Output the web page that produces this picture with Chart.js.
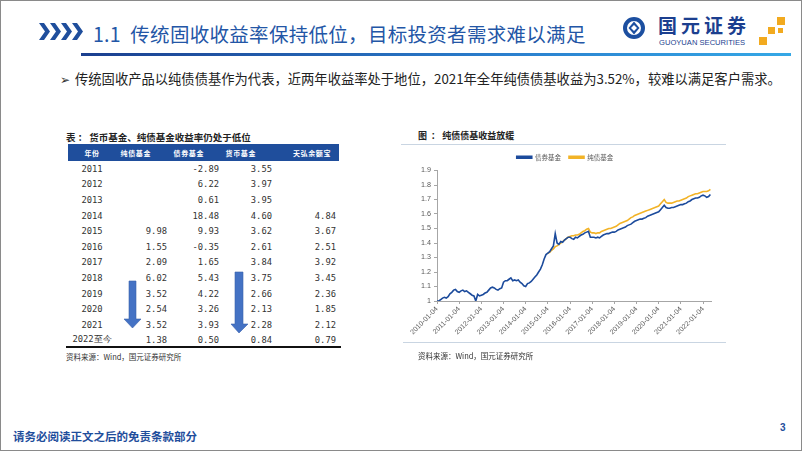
<!DOCTYPE html>
<html>
<head>
<meta charset="utf-8">
<script src="https://cdn.jsdelivr.net/npm/chart.js@4.4.1/dist/chart.umd.min.js"></script>
<style>
    body { margin: 0; background: #fff; }
    #slide {
        position: relative; width: 802px; height: 451px; box-sizing: border-box;
        border: 1px solid #8a8a8a; overflow: hidden;
        font-family: "Noto Sans CJK SC", "Noto Sans", sans-serif;
    }
    .abs { position: absolute; white-space: nowrap; }
    #title { left: 92px; top: 18px; font-size: 19.5px; color: #2356a6; letter-spacing: 0.3px; }
    #titleLine { left: 80px; top: 52px; width: 710px; height: 3px;
        background: linear-gradient(to right, #1b3f8f, #2a7fce 60%, #35a8e6); }
    #logoText { left: 657px; top: 14px; font-size: 19px; line-height: 1; font-weight: 700; color: #1c3f8f; letter-spacing: 4px; }
    #logoSub { left: 658px; top: 37.5px; line-height: 1; font-family: "Liberation Sans", sans-serif; font-size: 7.6px; color: #1c3f8f; }
    #bullet { left: 59px; top: 68px; font-size: 13.3px; color: #222; }
    #bullet span { color: #333; margin-right: 5px; font-size: 12px; }
    #tblCap { left: 65px; top: 129px; font-size: 9.5px; font-weight: 700; color: #222; }
    #tbl { position: absolute; left: 67px; top: 143px; border-collapse: collapse; table-layout: fixed; }
    #tbl th { background: #1f4e9c; color: #fff; font-size: 7px; font-weight: 700; height: 17px; padding: 0;
        letter-spacing: 0.6px; }
    #tbl td { height: 15.6px; padding: 0; font-family: "DejaVu Sans Mono", monospace; font-size: 8.8px; color: #333; }
    #tbl td.num { text-align: right; }
    #tbl td.yr { text-align: center; }
    #tblBottom { left: 65px; top: 345px; width: 275px; height: 2px; background: #111; }
    .src { font-size: 7.5px; color: #333; }
    #chartCap { left: 417px; top: 128px; font-size: 9px; font-weight: 700; color: #222; }
    #chartTop { left: 400px; top: 143px; width: 325px; height: 1px; background: #c9d5e2; }
    #chartBot { left: 402px; top: 341px; width: 323px; height: 1px; background: #c9d5e2; }
    #chartBox { position: absolute; left: 400px; top: 145px; }
    #footer { left: 12px; top: 427px; font-size: 11.5px; font-weight: 700; color: #1f4e9c; }
    #pageNo { left: 779px; top: 421px; font-size: 10px; font-weight: 700; color: #1f4e9c; font-family: "Liberation Sans", sans-serif; }
</style>
</head>
<body>
<div id="slide">
    <svg class="abs" style="left:38px;top:22px" width="46" height="17">
        <g fill="#1f4e9c">
            <polygon points="0,0 5,0 11,8.5 5,17 0,17 6,8.5"/>
            <polygon points="11,0 16,0 22,8.5 16,17 11,17 17,8.5"/>
            <polygon points="22,0 27,0 33,8.5 27,17 22,17 28,8.5"/>
            <polygon points="33,0 38,0 44,8.5 38,17 33,17 39,8.5"/>
        </g>
    </svg>
    <div id="title" class="abs">1.1&nbsp; 传统固收收益率保持低位，目标投资者需求难以满足</div>
    <div id="titleLine" class="abs"></div>

    <svg class="abs" style="left:621px;top:14px" width="26" height="26">
        <circle cx="12" cy="13" r="9" fill="none" stroke="#1c4fa0" stroke-width="4"/>
        <polygon points="12,6.5 17.5,13 12,19.5 6.5,13" fill="#1c4fa0"/>
        <polygon points="12,10 15,13 12,16 9,13" fill="#fff"/>
    </svg>
    <div id="logoText" class="abs">国元证券</div>
    <div id="logoSub" class="abs">GUOYUAN SECURITIES</div>
    <svg class="abs" style="left:756px;top:15px" width="30" height="32">
        <g fill="#f2aa1f">
            <rect x="20" y="1" width="8" height="8"/>
            <rect x="11" y="11" width="7" height="7"/>
            <rect x="21" y="12" width="5" height="5"/>
            <rect x="2" y="21" width="8" height="8"/>
        </g>
    </svg>

    <div id="bullet" class="abs"><span>➢</span>传统固收产品以纯债债基作为代表，近两年收益率处于地位，2021年全年纯债债基收益为3.52%，较难以满足客户需求。</div>

    <div id="tblCap" class="abs">表&nbsp;：&nbsp;货币基金、纯债基金收益率仍处于低位</div>
    <table id="tbl">
        <colgroup><col style="width:48px"><col style="width:55px"><col style="width:52px"><col style="width:53px"><col style="width:63px"></colgroup>
        <thead><tr id="tblHead"></tr></thead>
        <tbody id="tblBody"></tbody>
    </table>
    <div id="tblBottom" class="abs"></div>
    <svg class="abs" style="left:118px;top:266px" width="135" height="70">
        <g fill="#4472c4" stroke="#3a62ad" stroke-width="0.6">
            <polygon points="10,14 17,14 17,52 22,52 13.5,61 5,52 10,52"/>
            <polygon points="116,5 124,5 124,57 129,57 120,66 112,57 116,57"/>
        </g>
    </svg>
    <div class="abs src" style="left:65px;top:350px">资料来源：Wind，国元证券研究所</div>

    <div id="chartCap" class="abs">图&nbsp;&nbsp;：&nbsp;纯债债基收益放缓</div>
    <div id="chartTop" class="abs"></div>
    <div id="chartBox"><canvas id="bondChart" width="325" height="197"></canvas></div>
    <div id="chartBot" class="abs"></div>
    <div class="abs src" style="left:417px;top:349px">资料来源：Wind，国元证券研究所</div>

    <div id="footer" class="abs">请务必阅读正文之后的免责条款部分</div>
    <div id="pageNo" class="abs">3</div>
</div>

<script>
/****************************** Table data ********************************/
const tableHead = ['年份', '纯债基金', '债券基金', '货币基金', '天弘余额宝'];
const tableYears = ['2011', '2012', '2013', '2014', '2015', '2016', '2017', '2018', '2019', '2020', '2021', '2022至今'];
const tablePureBond = ['', '', '', '', '9.98', '1.55', '2.09', '6.02', '3.52', '2.54', '3.52', '1.38'];
const tableBond = ['-2.89', '6.22', '0.61', '18.48', '9.93', '-0.35', '1.65', '5.43', '4.22', '3.26', '3.93', '0.50'];
const tableMoney = ['3.55', '3.97', '3.95', '4.60', '3.62', '2.61', '3.84', '3.75', '2.66', '2.13', '2.28', '0.84'];
const tableYuebao = ['', '', '', '4.84', '3.67', '2.51', '3.92', '3.45', '2.36', '1.85', '2.12', '0.79'];

/****************************** Chart data ********************************/
const yearTicks = ['2010-01-04', '2011-01-04', '2012-01-04', '2013-01-04', '2014-01-04', '2015-01-04', '2016-01-04',
    '2017-01-04', '2018-01-04', '2019-01-04', '2020-01-04', '2021-01-04', '2022-01-04'];
const seriesNames = ['债券基金', '纯债基金'];
const seriesColors = ['#1c4b9c', '#f2b327'];

// 债券基金, monthly from 2010-01
const bondFund = [
    1.00, 1.00, 1.01, 1.02, 1.025, 1.02, 1.03, 1.05, 1.06, 1.075, 1.08, 1.065,
    1.06, 1.07, 1.075, 1.065, 1.07, 1.06, 1.05, 1.04, 1.035, 1.00, 1.045, 1.035,
    1.04, 1.045, 1.055, 1.06, 1.075, 1.09, 1.095, 1.09, 1.08, 1.075, 1.085, 1.09,
    1.13, 1.14, 1.14, 1.15, 1.16, 1.14, 1.145, 1.14, 1.145, 1.13, 1.12, 1.105,
    1.10, 1.12, 1.125, 1.135, 1.15, 1.165, 1.18, 1.20, 1.22, 1.25, 1.29, 1.32,
    1.33, 1.34, 1.36, 1.38, 1.465, 1.40, 1.39, 1.41, 1.405, 1.42, 1.43, 1.44,
    1.44, 1.43, 1.425, 1.44, 1.435, 1.445, 1.455, 1.46, 1.47, 1.475, 1.48, 1.44,
    1.44, 1.44, 1.435, 1.44, 1.435, 1.445, 1.455, 1.46, 1.465, 1.465, 1.47, 1.475,
    1.475, 1.48, 1.49, 1.495, 1.50, 1.505, 1.51, 1.52, 1.525, 1.53, 1.54, 1.55,
    1.555, 1.56, 1.565, 1.565, 1.57, 1.575, 1.585, 1.59, 1.595, 1.60, 1.605, 1.61,
    1.615, 1.63, 1.645, 1.66, 1.645, 1.64, 1.64, 1.645, 1.645, 1.65, 1.655, 1.66,
    1.665, 1.665, 1.67, 1.675, 1.685, 1.69, 1.70, 1.705, 1.71, 1.71, 1.715, 1.725,
    1.73, 1.725, 1.715, 1.72, 1.735
];

// 纯债基金, monthly from 2015-01
const pureBondFund = [
    1.33, 1.335, 1.35, 1.36, 1.375, 1.38, 1.39, 1.40, 1.41, 1.42, 1.43, 1.44,
    1.445, 1.45, 1.45, 1.455, 1.455, 1.46, 1.47, 1.48, 1.485, 1.495, 1.50, 1.475,
    1.47, 1.47, 1.465, 1.47, 1.47, 1.48, 1.485, 1.49, 1.495, 1.50, 1.50, 1.505,
    1.51, 1.515, 1.525, 1.535, 1.54, 1.545, 1.55, 1.555, 1.565, 1.575, 1.58, 1.59,
    1.595, 1.60, 1.605, 1.61, 1.615, 1.62, 1.625, 1.63, 1.635, 1.64, 1.645, 1.65,
    1.655, 1.67, 1.685, 1.70, 1.68, 1.675, 1.675, 1.675, 1.68, 1.685, 1.69, 1.69,
    1.695, 1.70, 1.705, 1.71, 1.72, 1.725, 1.73, 1.735, 1.74, 1.74, 1.745, 1.75,
    1.755, 1.755, 1.755, 1.76, 1.77
];

/****************************** Table ********************************/
document.getElementById('tblHead').innerHTML = tableHead.map((h, i) => {
    const pad = [0, 20, 19, 20, 8][i];
    const align = i === 0 ? 'center' : 'right';
    return `<th style="text-align:${align};padding-right:${pad}px">${h}</th>`;
}).join('');

document.getElementById('tblBody').innerHTML = tableYears.map((y, i) => {
    return `<tr><td class="yr">${y}</td>` +
        `<td class="num" style="padding-right:4px">${tablePureBond[i]}</td>` +
        `<td class="num" style="padding-right:4px">${tableBond[i]}</td>` +
        `<td class="num" style="padding-right:4px">${tableMoney[i]}</td>` +
        `<td class="num" style="padding-right:3px">${tableYuebao[i]}</td></tr>`;
}).join('');

/****************************** Line chart ********************************/
const toPoints = (values, startYear) => values.map((v, i) => ({ x: startYear + i / 12, y: v }));

// the legend in the reference sits a bit right of the canvas centre
const legendShift = {
    id: 'legendShift',
    afterLayout(chart) {
        chart.legend.left += 9;
        chart.legend.right += 9;
    }
};

new Chart(document.getElementById('bondChart'), {
    type: 'line',
    data: {
        datasets: [
            {
                label: seriesNames[0],
                data: toPoints(bondFund, 2010),
                borderColor: seriesColors[0],
                backgroundColor: seriesColors[0],
                borderWidth: 1.6,
                pointRadius: 0,
                order: 1
            },
            {
                label: seriesNames[1],
                data: toPoints(pureBondFund, 2015),
                borderColor: seriesColors[1],
                backgroundColor: seriesColors[1],
                borderWidth: 1.6,
                pointRadius: 0,
                order: 2
            }
        ]
    },
    plugins: [legendShift],
    options: {
        responsive: false,
        animation: false,
        layout: { padding: { left: 0, right: 15, top: 0, bottom: 0 } },
        plugins: {
            tooltip: { enabled: false },
            legend: {
                position: 'top',
                maxHeight: 26,
                labels: {
                    boxWidth: 15,
                    boxHeight: 2,
                    padding: 8,
                    color: '#595959',
                    font: { family: 'Noto Sans CJK SC', size: 6.5 }
                }
            }
        },
        scales: {
            x: {
                type: 'linear',
                min: 2010,
                max: 2022.36,
                grid: { drawOnChartArea: false, tickLength: 3, color: '#a6a6a6' },
                border: { color: '#a6a6a6' },
                ticks: {
                    stepSize: 1,
                    includeBounds: false,
                    autoSkip: false,
                    minRotation: 45,
                    maxRotation: 45,
                    padding: 1,
                    color: '#595959',
                    font: { family: 'Liberation Sans', size: 7 },
                    callback: v => Number.isInteger(v) ? yearTicks[v - 2010] : null
                },
                afterFit: scale => { scale.height = 42; }
            },
            y: {
                min: 1,
                max: 1.9,
                grid: { drawOnChartArea: false, tickLength: 3, color: '#a6a6a6' },
                border: { color: '#a6a6a6' },
                ticks: {
                    stepSize: 0.1,
                    padding: 3,
                    color: '#595959',
                    font: { family: 'Liberation Sans', size: 7.2 },
                    callback: v => String(+v.toFixed(1))
                },
                afterFit: scale => { scale.width = 36; }
            }
        }
    }
});
</script>
</body>
</html>
